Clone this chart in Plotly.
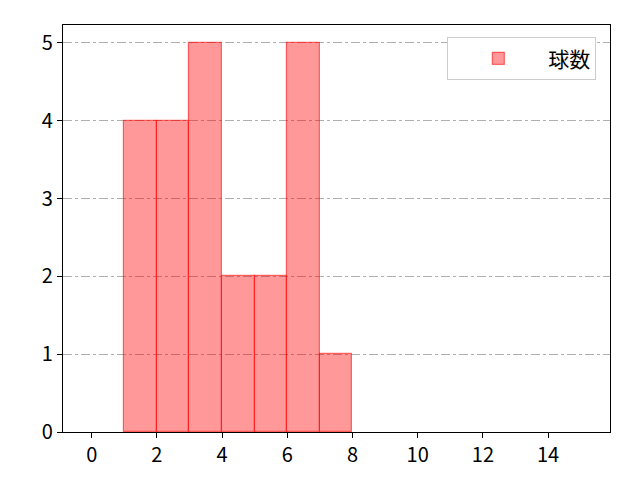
import plotly.graph_objects as go

# histogram bins (left edges) and counts
bin_left = [1, 2, 3, 4, 5, 6, 7]
counts = [4, 4, 5, 2, 2, 5, 1]
series_name = "球数"

x_ticks = [0, 2, 4, 6, 8, 10, 12, 14]
y_ticks = [0, 1, 2, 3, 4, 5]

fig = go.Figure()
fig.add_trace(go.Bar(
    x=bin_left,
    y=counts,
    width=1,
    offset=0,
    name=series_name,
    marker=dict(color="rgba(255,0,0,0.4)",
                line=dict(color="rgba(255,0,0,0.55)", width=1.2)),
    showlegend=True,
))

axis_common = dict(
    showline=True, linecolor="black", linewidth=1.2, mirror=True,
    ticks="outside", ticklen=5, tickwidth=1.2, tickcolor="black",
    tickfont=dict(size=20, color="black"),
    zeroline=False,
)

fig.update_xaxes(range=[-0.88, 15.9], tickvals=x_ticks, showgrid=False, **axis_common)
fig.update_yaxes(range=[0, 5.23], tickvals=y_ticks, showgrid=True,
                 gridcolor="#b0b0b0", griddash="dashdot", gridwidth=0.8, **axis_common)

fig.update_layout(
    width=640, height=480,
    margin=dict(l=55, r=38, t=17, b=56),
    plot_bgcolor="white", paper_bgcolor="white",
    font=dict(family="Noto Sans CJK JP, DejaVu Sans", color="black"),
    bargap=0,
    legend=dict(x=0.975, y=0.97, xanchor="right", yanchor="top",
                bordercolor="#cccccc", borderwidth=1, bgcolor="white",
                font=dict(size=21), itemwidth=90),
)

fig.write_html("out.html")
